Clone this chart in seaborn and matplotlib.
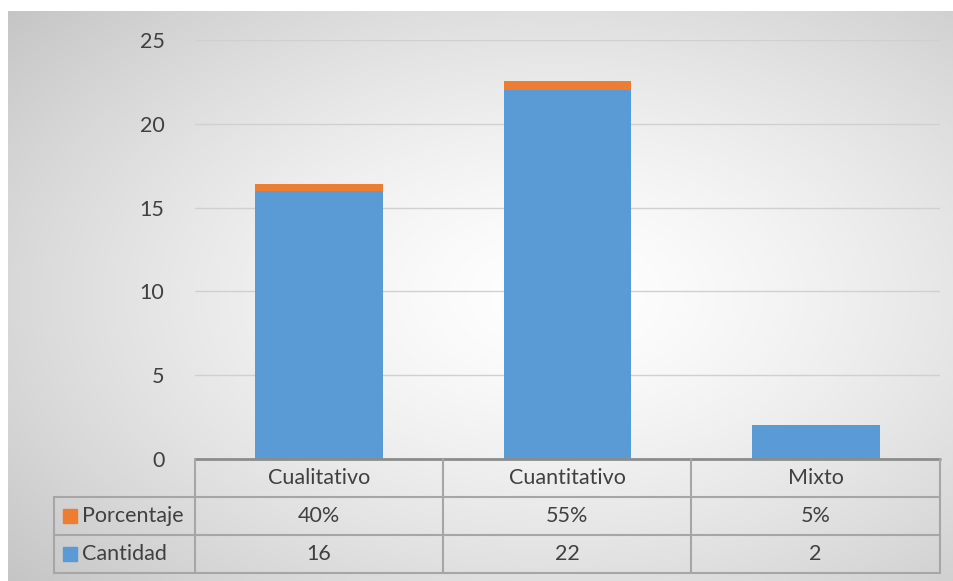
import numpy as np
import pandas as pd
import matplotlib
matplotlib.use("Agg")
import matplotlib.pyplot as plt
import seaborn as sns
from matplotlib.lines import Line2D
from matplotlib.patches import Rectangle

# Data
categorias = ["Cualitativo", "Cuantitativo", "Mixto"]
cantidad = [16, 22, 2]
porcentaje = [0.40, 0.55, 0.05]
porcentaje_labels = ["40%", "55%", "5%"]
y_ticks = [0, 5, 10, 15, 20, 25]

BLUE = "#5B9BD5"
ORANGE = "#ED7D31"
TEXT = "#404040"
FS = 15.5

W, H = 954, 581

sns.set_theme(style="white")
plt.rcParams["font.family"] = ["Lato", "DejaVu Sans"]

fig = plt.figure(figsize=(W / 100, H / 100), dpi=100)
fig.patch.set_facecolor("white")


def fx(px):
    return px / W


def fy(py):
    return 1 - py / H


# radial gradient background for the chart area
bg = fig.add_axes([fx(8), fy(581), fx(954 - 8), (581 - 11) / H])
bg.set_axis_off()
gx, gy = np.meshgrid(np.linspace(0, 1, 400), np.linspace(0, 1, 250))
r = np.sqrt(((gx - 0.58) / 0.75) ** 2 + ((gy - 0.5) / 0.75) ** 2)
shade = 1.0 - 0.22 * np.clip(r, 0, 1.2) ** 1.4
bg.imshow(np.dstack([shade] * 3), aspect="auto", extent=[0, 1, 0, 1], interpolation="bilinear")
bg.set_xlim(0, 1)
bg.set_ylim(0, 1)

# main plot
ax = fig.add_axes([fx(195), fy(459), fx(940 - 195), (459 - 40) / H])
ax.patch.set_alpha(0)

df = pd.DataFrame({
    "categoria": categorias,
    "cantidad": cantidad,
    "total": np.array(cantidad) + np.array(porcentaje),
})

# stacked bars: total (orange) behind, cantidad (blue) in front
sns.barplot(data=df, x="categoria", y="total", color=ORANGE, width=0.515,
            saturation=1, linewidth=0, edgecolor="none", ax=ax, zorder=3)
sns.barplot(data=df, x="categoria", y="cantidad", color=BLUE, width=0.515,
            saturation=1, linewidth=0, edgecolor="none", ax=ax, zorder=3)

ax.set_xlim(-0.5, 2.5)
ax.set_ylim(0, 25)
ax.set_yticks(y_ticks)
ax.set_yticklabels([str(t) for t in y_ticks], fontsize=FS, color=TEXT)
ax.tick_params(axis="y", length=0, pad=22)
ax.set_xticks([])
ax.set_xlabel("")
ax.set_ylabel("")
ax.yaxis.grid(True, color="#D0D0D0", linewidth=1)
ax.set_axisbelow(True)
for s in ax.spines.values():
    s.set_visible(False)

# data table below the axis
line_c = "#A6A6A6"
col_x = [195, 443, 691, 940]
row_y = [459, 497, 535, 573]
left_x = 54


def hline(x0, x1, y, color=line_c, lw=1.5):
    fig.add_artist(Line2D([fx(x0), fx(x1)], [fy(y), fy(y)], color=color, lw=lw))


def vline(x, y0, y1, color=line_c, lw=1.5):
    fig.add_artist(Line2D([fx(x), fx(x)], [fy(y0), fy(y1)], color=color, lw=lw))


hline(col_x[0], col_x[-1], row_y[0], color="#8C8C8C", lw=2)
hline(left_x, col_x[-1], row_y[1])
hline(left_x, col_x[-1], row_y[2])
hline(left_x, col_x[-1], row_y[3])
for x in col_x:
    vline(x, row_y[0], row_y[3])
vline(left_x, row_y[1], row_y[3])

for i, cat in enumerate(categorias):
    cx = (col_x[i] + col_x[i + 1]) / 2
    fig.text(fx(cx), fy((row_y[0] + row_y[1]) / 2), cat, ha="center", va="center",
             fontsize=FS, color=TEXT)
    fig.text(fx(cx), fy((row_y[1] + row_y[2]) / 2), porcentaje_labels[i], ha="center",
             va="center", fontsize=FS, color=TEXT)
    fig.text(fx(cx), fy((row_y[2] + row_y[3]) / 2), str(cantidad[i]), ha="center",
             va="center", fontsize=FS, color=TEXT)

# legend keys inside the table
for (name, color, r0, r1) in [("Porcentaje", ORANGE, row_y[1], row_y[2]),
                              ("Cantidad", BLUE, row_y[2], row_y[3])]:
    yc = (r0 + r1) / 2
    fig.add_artist(Rectangle((fx(63), fy(yc + 7)), fx(14), 14 / H, color=color,
                             transform=fig.transFigure))
    fig.text(fx(82), fy(yc), name, ha="left", va="center", fontsize=FS, color=TEXT)

fig.savefig("out.png", dpi=100, facecolor="white")
